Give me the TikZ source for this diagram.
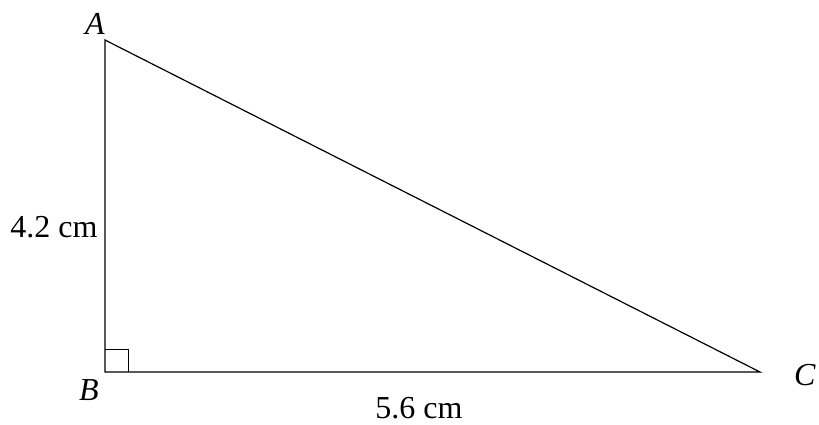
\documentclass[tikz,border=0pt]{standalone}
\usepackage{fontspec}
\setmainfont{Liberation Serif}
\begin{document}
\begin{tikzpicture}[x=1pt,y=-1pt,
  edge/.style={line width=1.2pt,black},
  lbl/.style={inner sep=0pt,font=\fontsize{32}{36}\selectfont}]
\useasboundingbox (0,0) rectangle (819,424);
\coordinate (A) at (105,40);
\coordinate (B) at (105,372);
\coordinate (C) at (760,372);
\draw[edge] (A) -- (B) -- (C) -- cycle;
\draw[line width=1pt] (105,349) -- (128,349) -- (128,372);
\node[lbl] (la) at (95,24) {\textit{A}};
\node[lbl] (lb) at (89,390) {\textit{B}};
\node[lbl] (lc) at (805,375) {\textit{C}};
\node[lbl] (l42) at (54,227) {4.2 cm};
\node[lbl] (l56) at (419,408) {5.6 cm};
\end{tikzpicture}
\end{document}
